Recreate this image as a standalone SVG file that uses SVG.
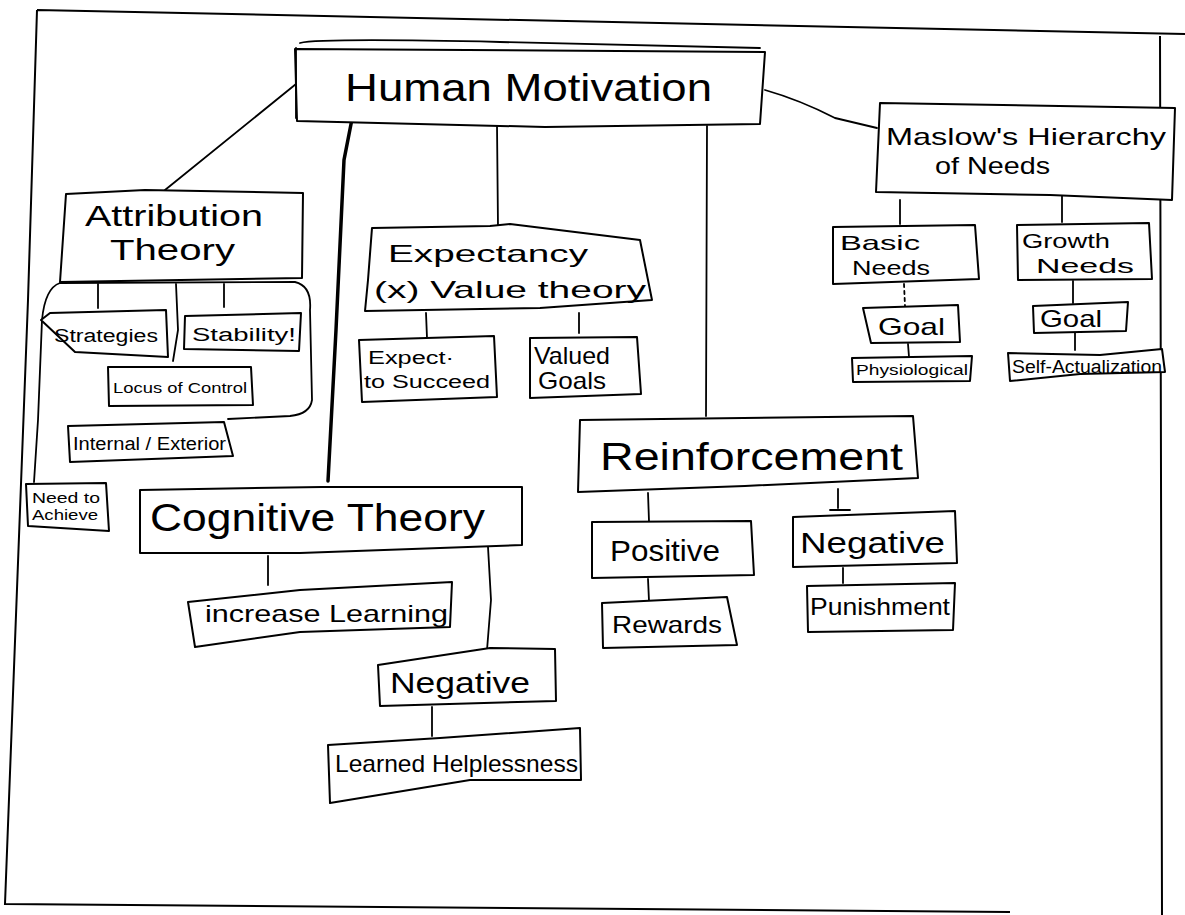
<svg xmlns="http://www.w3.org/2000/svg" width="1185" height="915" viewBox="0 0 1185 915">
  <style>
    .box { fill: #ffffff; stroke: #000; stroke-width: 2; stroke-linejoin: round; }
    .ln { fill: none; stroke: #000; stroke-width: 1.8; stroke-linecap: round; stroke-linejoin: round; }
    .thick { fill: none; stroke: #000; stroke-width: 3.5; stroke-linecap: round; }
    .frame { fill: none; stroke: #000; stroke-width: 2; }
    text { font-family: "Liberation Sans", "DejaVu Sans", sans-serif; fill: #000; text-anchor: start; }
    .xl { font-size: 38px; }
    .lg { font-size: 30px; }
    .md { font-size: 24px; }
    .ms { font-size: 21px; }
    .sm { font-size: 18px; }
    .xs { font-size: 14px; }
  </style>

  <rect width="1185" height="915" fill="#ffffff"/>

  <!-- page frame -->
  <path class="frame" d="M37,10 L1185,34 M37,10 L28,300 L5,904 L1010,912 M1160,36 L1162,915"/>

  <!-- connectors -->
  <g id="connectors">
    <path class="ln" d="M296,84 L165,190"/>
    <path class="thick" d="M352,119 L344,160 L336,330 L328,481"/>
    <path class="ln" d="M497,125 L498,228"/>
    <path class="ln" d="M707,126 L706,416"/>
    <path class="ln" d="M765,90 Q800,100 835,118 L877,128"/>
    <!-- attribution branches -->
    <path class="ln" d="M98,284 L98,308"/>
    <path class="ln" d="M224,284 L224,307"/>
    <path class="ln" d="M176,284 L178,330 L173,361"/>
    <!-- expectancy branches -->
    <path class="ln" d="M426,313 L427,338"/>
    <path class="ln" d="M579,313 L579,333"/>
    <!-- maslow branches -->
    <path class="ln" d="M900,200 L900,224"/>
    <path class="ln" d="M1062,196 L1062,222"/>
    <path class="ln" d="M904,284 L905,306" stroke-dasharray="3,4"/>
    <path class="ln" d="M908,344 L909,357"/>
    <path class="ln" d="M1073,281 L1073,303"/>
    <path class="ln" d="M1075,333 L1075,350"/>
    <!-- reinforcement branches -->
    <path class="ln" d="M648,493 L649,521"/>
    <path class="ln" d="M838,489 L838,508 M830,510 L850,510"/>
    <path class="ln" d="M648,579 L649,601"/>
    <path class="ln" d="M843,568 L843,583"/>
    <!-- cognitive branches -->
    <path class="ln" d="M268,556 L268,585"/>
    <path class="ln" d="M488,547 L491,600 L487,650"/>
    <path class="ln" d="M432,707 L432,736"/>
  </g>

  <!-- Human Motivation -->
  <g id="human-motivation">
    <path class="box" d="M295,49 L765,52 L760,124 L545,127 L297,121 Z"/>
    <path class="ln" d="M300,43 Q320,38 500,42 L760,48"/>
    <path class="ln" d="M296,48 L296,118" stroke-width="3"/>
    <text class="xl" x="345" y="101" textLength="367" lengthAdjust="spacingAndGlyphs">Human  Motivation</text>
  </g>

  <!-- Maslow's Hierarchy of Needs -->
  <g id="maslow">
    <path class="box" d="M880,103 L1175,108 L1172,200 L1050,195 L876,192 Z"/>
    <text class="md" x="886" y="145" textLength="280" lengthAdjust="spacingAndGlyphs">Maslow's Hierarchy</text>
    <text class="md" x="935" y="174" textLength="115" lengthAdjust="spacingAndGlyphs">of  Needs</text>
  </g>

  <!-- Attribution Theory -->
  <g id="attribution-theory">
    <path class="box" d="M66,194 L145,190 L303,193 L302,278 L60,282 Z"/>
    <text class="lg" x="85" y="226" textLength="178" lengthAdjust="spacingAndGlyphs">Attribution</text>
    <text class="lg" x="110" y="260" textLength="125" lengthAdjust="spacingAndGlyphs">Theory</text>
  </g>

  <!-- attribution grouping outline -->
  <g id="attribution-group">
    <path class="ln" d="M60,283 Q45,288 42,320 L38,420 L34,482" stroke-width="3"/>
    <path class="ln" d="M60,283 L295,282 Q312,286 310,310 L312,400 Q310,414 290,416 L228,419" stroke-width="2.5"/>
  </g>

  <g id="strategies">
    <path class="box" d="M50,313 L166,310 L168,357 L75,352 L41,320 Z"/>
    <text class="sm" x="54" y="342" textLength="104" lengthAdjust="spacingAndGlyphs">Strategies</text>
  </g>

  <g id="stability">
    <path class="box" d="M185,316 L301,313 L299,351 L184,349 Z"/>
    <text class="sm" x="192" y="341" textLength="104" lengthAdjust="spacingAndGlyphs">Stability!</text>
  </g>

  <g id="locus-of-control">
    <path class="box" d="M108,367 L251,367 L253,405 L109,406 Z"/>
    <text class="xs" x="113" y="393" textLength="134" lengthAdjust="spacingAndGlyphs">Locus of Control</text>
  </g>

  <g id="internal-exterior">
    <path class="box" d="M68,426 L224,422 L233,456 L70,462 Z"/>
    <text class="sm" x="73" y="450" textLength="153" lengthAdjust="spacingAndGlyphs">Internal / Exterior</text>
  </g>

  <g id="need-to-achieve">
    <path class="box" d="M26,484 L106,483 L109,531 L28,526 Z"/>
    <text class="xs" x="32" y="503" textLength="68" lengthAdjust="spacingAndGlyphs">Need to</text>
    <text class="xs" x="32" y="520" textLength="66" lengthAdjust="spacingAndGlyphs">Achieve</text>
  </g>

  <!-- Expectancy (x) Value Theory -->
  <g id="expectancy-value">
    <path class="box" d="M372,228 L490,226 L510,224 L640,240 L652,300 L540,308 L365,311 L368,280 Z"/>
    <text class="md" x="388" y="262" textLength="200" lengthAdjust="spacingAndGlyphs">Expectancy</text>
    <text class="md" x="374" y="298" textLength="272" lengthAdjust="spacingAndGlyphs">(x) Value theory</text>
  </g>

  <g id="expect-to-succeed">
    <path class="box" d="M359,340 L494,336 L497,397 L362,402 Z"/>
    <text class="sm" x="368" y="364" textLength="86" lengthAdjust="spacingAndGlyphs">Expect·</text>
    <text class="sm" x="364" y="388" textLength="126" lengthAdjust="spacingAndGlyphs">to Succeed</text>
  </g>

  <g id="valued-goals">
    <path class="box" d="M530,338 L637,337 L641,394 L530,398 Z"/>
    <text class="md" x="534" y="364" textLength="76" lengthAdjust="spacingAndGlyphs">Valued</text>
    <text class="md" x="538" y="389" textLength="68" lengthAdjust="spacingAndGlyphs">Goals</text>
  </g>

  <!-- Maslow children -->
  <g id="basic-needs">
    <path class="box" d="M833,227 L975,225 L979,279 L833,284 Z"/>
    <text class="ms" x="840" y="250" textLength="80" lengthAdjust="spacingAndGlyphs">Basic</text>
    <text class="ms" x="852" y="275" textLength="78" lengthAdjust="spacingAndGlyphs">Needs</text>
  </g>

  <g id="growth-needs">
    <path class="box" d="M1017,225 L1149,223 L1152,279 L1018,280 Z"/>
    <text class="ms" x="1022" y="248" textLength="88" lengthAdjust="spacingAndGlyphs">Growth</text>
    <text class="ms" x="1036" y="273" textLength="98" lengthAdjust="spacingAndGlyphs">Needs</text>
  </g>

  <g id="goal-basic">
    <path class="box" d="M863,308 L958,305 L960,342 L871,343 Z"/>
    <text class="md" x="878" y="335" textLength="67" lengthAdjust="spacingAndGlyphs">Goal</text>
  </g>

  <g id="goal-growth">
    <path class="box" d="M1033,306 L1128,302 L1126,331 L1034,333 Z"/>
    <text class="md" x="1040" y="327" textLength="62" lengthAdjust="spacingAndGlyphs">Goal</text>
  </g>

  <g id="physiological">
    <path class="box" d="M852,358 L972,356 L970,381 L853,382 Z"/>
    <text class="xs" x="856" y="375" textLength="112" lengthAdjust="spacingAndGlyphs">Physiological</text>
  </g>

  <g id="self-actualization">
    <path class="box" d="M1008,353 L1100,355 L1162,349 L1165,372 L1080,374 L1010,381 Z"/>
    <text class="sm" x="1012" y="373" textLength="150" lengthAdjust="spacingAndGlyphs">Self-Actualization</text>
  </g>

  <!-- Reinforcement -->
  <g id="reinforcement">
    <path class="box" d="M580,420 L913,416 L918,478 L745,486 L578,492 Z"/>
    <text class="xl" x="600" y="470" textLength="303" lengthAdjust="spacingAndGlyphs">Reinforcement</text>
  </g>

  <g id="positive">
    <path class="box" d="M592,522 L751,521 L754,575 L592,578 Z"/>
    <text class="lg" x="610" y="561" textLength="110" lengthAdjust="spacingAndGlyphs">Positive</text>
  </g>

  <g id="negative-reinforcement">
    <path class="box" d="M793,517 L955,511 L957,563 L793,567 Z"/>
    <text class="lg" x="800" y="553" textLength="145" lengthAdjust="spacingAndGlyphs">Negative</text>
  </g>

  <g id="rewards">
    <path class="box" d="M602,603 L727,597 L737,645 L603,648 Z"/>
    <text class="md" x="612" y="633" textLength="110" lengthAdjust="spacingAndGlyphs">Rewards</text>
  </g>

  <g id="punishment">
    <path class="box" d="M807,586 L955,583 L953,630 L808,632 Z"/>
    <text class="md" x="810" y="615" textLength="140" lengthAdjust="spacingAndGlyphs">Punishment</text>
  </g>

  <!-- Cognitive Theory -->
  <g id="cognitive-theory">
    <path class="box" d="M140,490 L322,487 L522,487 L522,545 L300,553 L140,553 Z"/>
    <text class="xl" x="150" y="531" textLength="335" lengthAdjust="spacingAndGlyphs">Cognitive Theory</text>
  </g>

  <g id="increase-learning">
    <path class="box" d="M188,602 L300,590 L452,582 L450,627 L300,632 L195,647 Z"/>
    <text class="md" x="205" y="622" textLength="243" lengthAdjust="spacingAndGlyphs">increase Learning</text>
  </g>

  <g id="negative-cognitive">
    <path class="box" d="M378,665 L490,648 L555,649 L556,701 L380,706 Z"/>
    <text class="lg" x="390" y="693" textLength="140" lengthAdjust="spacingAndGlyphs">Negative</text>
  </g>

  <g id="learned-helplessness">
    <path class="box" d="M328,745 L440,738 L580,728 L581,780 L470,780 L330,803 Z"/>
    <text class="md" x="335" y="772" textLength="243" lengthAdjust="spacingAndGlyphs">Learned Helplessness</text>
  </g>
</svg>
